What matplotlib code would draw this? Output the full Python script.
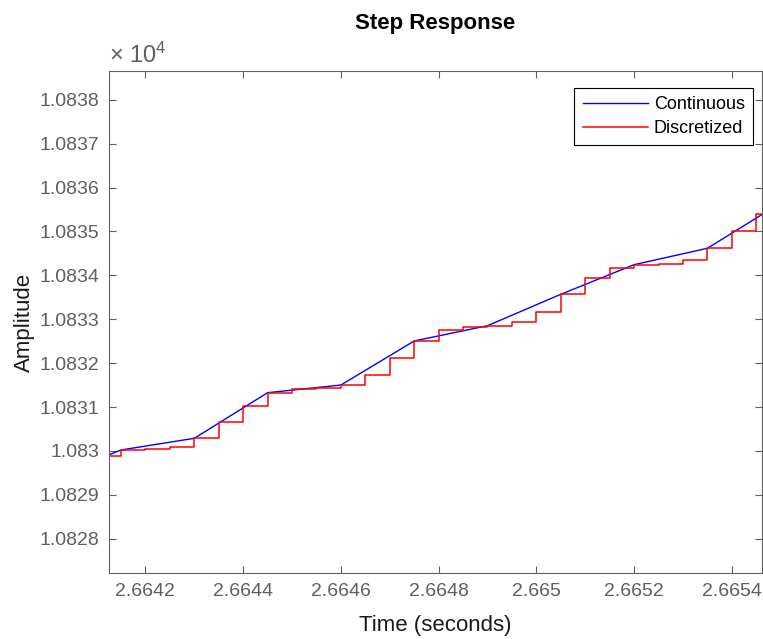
import matplotlib.pyplot as plt
from matplotlib.ticker import FuncFormatter

# 连续响应（粗采样折线）
cont_t = [2.66400, 2.66415, 2.66430, 2.66445, 2.66460, 2.66475,
          2.66490, 2.66505, 2.66520, 2.66535, 2.66550]
cont_y = [10829.35, 10830.023, 10830.289, 10831.328, 10831.503, 10832.506,
          10832.854, 10833.569, 10834.244, 10834.617, 10835.65]

# 离散化响应（零阶保持阶梯）
disc_t = [2.66410, 2.66415, 2.66420, 2.66425, 2.66430, 2.66435, 2.66440,
          2.66445, 2.66450, 2.66455, 2.66460, 2.66465, 2.66470, 2.66475,
          2.66480, 2.66485, 2.66490, 2.66495, 2.66500, 2.66505, 2.66510,
          2.66515, 2.66520, 2.66525, 2.66530, 2.66535, 2.66540, 2.66545,
          2.66550]
disc_y = [10829.893, 10830.023, 10830.046, 10830.084, 10830.289, 10830.654,
          10831.032, 10831.328, 10831.412, 10831.446, 10831.503, 10831.731,
          10832.112, 10832.506, 10832.749, 10832.831, 10832.854, 10832.932,
          10833.173, 10833.569, 10833.934, 10834.175, 10834.244, 10834.26,
          10834.351, 10834.617, 10835.018, 10835.392, 10835.75]

x_ticks = [2.6642, 2.6644, 2.6646, 2.6648, 2.6650, 2.6652, 2.6654]
y_ticks = [10828, 10829, 10830, 10831, 10832, 10833, 10834, 10835,
           10836, 10837, 10838]

plt.rcParams["font.family"] = ["Liberation Sans", "DejaVu Sans"]
plt.rcParams["mathtext.default"] = "regular"

gray = "#5f5f5f"

fig = plt.figure(figsize=(7.63, 6.39), dpi=100)
ax = fig.add_axes([0.1429, 0.1033, 0.8558, 0.7856])

ax.plot(cont_t, cont_y, color="#0000ff", lw=1.0, label="Continuous")
ax.plot(disc_t, disc_y, color="#ff0000", lw=1.1, drawstyle="steps-post",
        label="Discretized")

ax.set_xlim(2.6641255, 2.6654618)
ax.set_ylim(10827.221, 10838.656)
ax.set_xticks(x_ticks)
ax.set_yticks(y_ticks)
ax.xaxis.set_major_formatter(FuncFormatter(lambda v, p: f"{v:.5g}"))
ax.yaxis.set_major_formatter(FuncFormatter(lambda v, p: f"{v / 1e4:.5g}"))

ax.tick_params(direction="in", length=5, width=0.8, colors=gray,
               labelsize=14, top=True, right=True, pad=7)
for side in ax.spines.values():
    side.set_color(gray)
    side.set_linewidth(0.8)

ax.text(0.0, 1.006, "× 10$^{4}$", transform=ax.transAxes, ha="left",
        va="bottom", fontsize=17, color=gray)

ax.set_xlabel("Time (seconds)", fontsize=16, color="#1a1a1a", labelpad=11)
ax.set_ylabel("Amplitude", fontsize=16, color="#1a1a1a", labelpad=3)
ax.set_title("Step Response", fontsize=16, fontweight="bold", pad=30)

leg = ax.legend(loc="upper right", bbox_to_anchor=(0.9862, 0.9661),
                fontsize=13, fancybox=False, framealpha=1,
                edgecolor="black", borderaxespad=0, handlelength=3.6,
                handletextpad=0.35, borderpad=0.45, labelspacing=0.4)
leg.get_frame().set_linewidth(0.8)

fig.savefig("out.png", dpi=100)
